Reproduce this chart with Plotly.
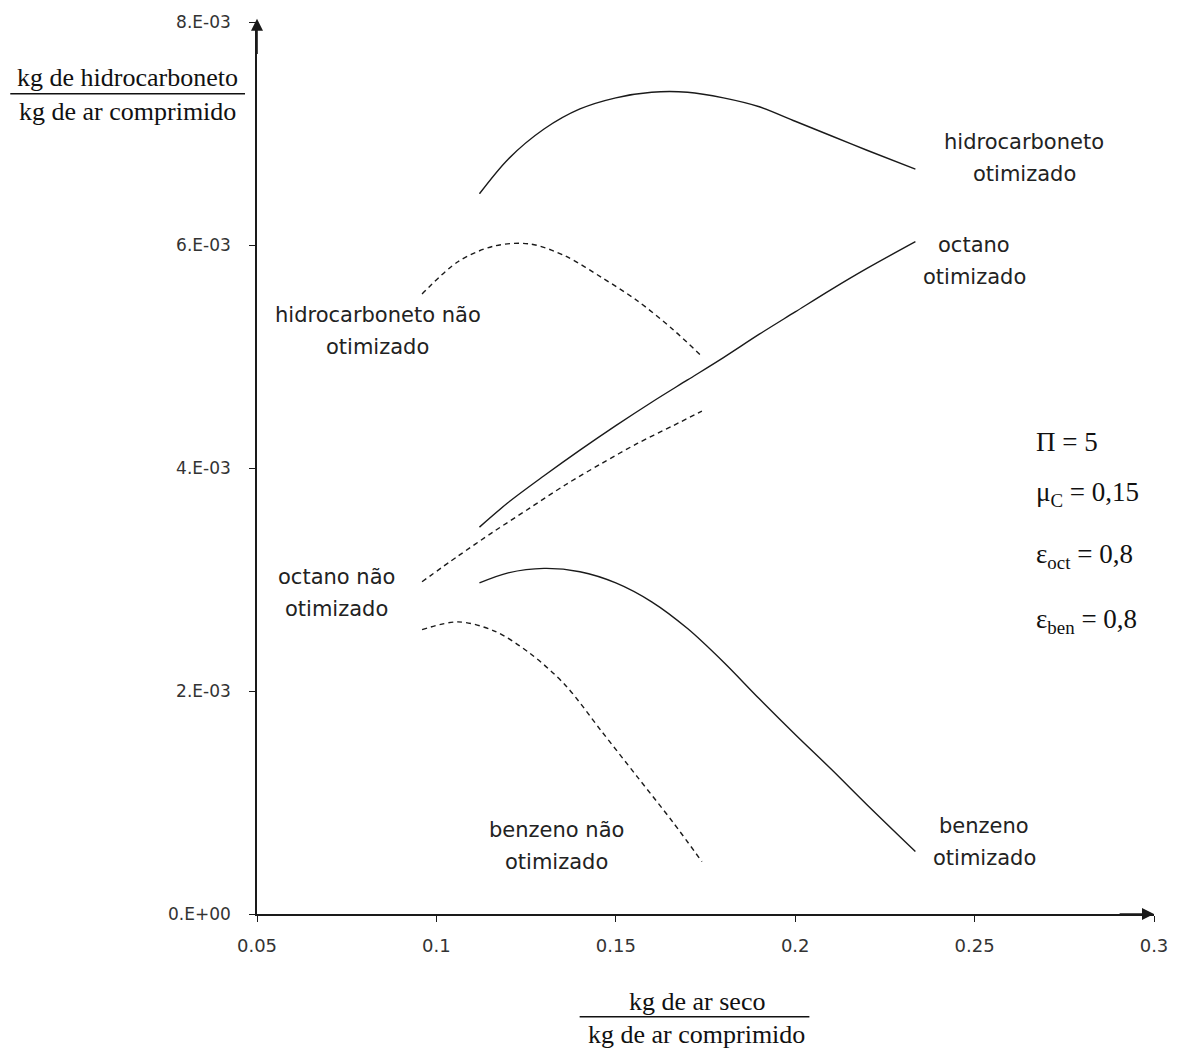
import plotly.graph_objects as go

# Air-to-compressed-air ratio (x) for the two families of curves
x_nao_otim = [0.096, 0.106, 0.116, 0.126, 0.136, 0.146, 0.156, 0.166, 0.174]
x_otim = [0.112, 0.12, 0.13, 0.14, 0.15, 0.16, 0.17, 0.18, 0.19, 0.2, 0.21, 0.22, 0.2335]

# Hydrocarbon mass per compressed-air mass (×1e-3)
hidro_nao_otim = [5.56, 5.85, 5.99, 6.01, 5.90, 5.71, 5.50, 5.24, 5.00]
octano_nao_otim = [2.98, 3.21, 3.43, 3.64, 3.85, 4.04, 4.22, 4.38, 4.51]
benzeno_nao_otim = [2.55, 2.62, 2.54, 2.34, 2.05, 1.64, 1.23, 0.82, 0.47]

hidro_otim = [6.46, 6.77, 7.04, 7.22, 7.32, 7.37, 7.37, 7.32, 7.24, 7.11, 6.98, 6.85, 6.68]
octano_otim = [3.47, 3.69, 3.93, 4.16, 4.38, 4.59, 4.79, 4.99, 5.20, 5.40, 5.60, 5.79, 6.03]
benzeno_otim = [2.97, 3.06, 3.10, 3.07, 2.97, 2.80, 2.56, 2.26, 1.93, 1.61, 1.30, 0.98, 0.56]

x_ticks = [0.05, 0.1, 0.15, 0.2, 0.25, 0.3]
x_tick_text = ["0.05", "0.1", "0.15", "0.2", "0.25", "0.3"]
y_ticks = [0, 2e-3, 4e-3, 6e-3, 8e-3]
y_tick_text = ["0.E+00", "2.E-03", "4.E-03", "6.E-03", "8.E-03"]

LINE = "#1a1a1a"
SANS = "'DejaVu Sans', Verdana, sans-serif"
SERIF = "'Liberation Serif', 'Times New Roman', serif"

# Plot-area geometry (pixels) used to place paper-referenced titles
W, H = 1180, 1050
L, R, T, B = 257, 25, 20, 136
PW, PH = W - L - R, H - T - B


def px(xp):
    return (xp - L) / PW


def py(yp):
    return (H - B - yp) / PH


fig = go.Figure()


def curve(xs, ys, dashed):
    fig.add_trace(go.Scatter(
        x=xs, y=[v * 1e-3 for v in ys], mode="lines",
        line=dict(color=LINE, width=1.4, shape="spline", smoothing=0.9,
                  dash="5px,4px" if dashed else "solid"),
        showlegend=False, hoverinfo="skip"))


curve(x_otim, hidro_otim, False)
curve(x_otim, octano_otim, False)
curve(x_otim, benzeno_otim, False)
curve(x_nao_otim, hidro_nao_otim, True)
curve(x_nao_otim, octano_nao_otim, True)
curve(x_nao_otim, benzeno_nao_otim, True)

# Curve labels (data coordinates of the label centre, y in 1e-3); two lines each
labels = [
    (0.2638, 6.78, "hidrocarboneto", "otimizado"),
    (0.2499, 5.86, "octano", "otimizado"),
    (0.0837, 5.23, "hidrocarboneto não", "otimizado"),
    (0.0722, 2.875, "octano não", "otimizado"),
    (0.1335, 0.607, "benzeno não", "otimizado"),
    (0.2527, 0.65, "benzeno", "otimizado"),
]
LINE_GAP = 16  # half the spacing between the two text lines, px
for lx, ly, top, bottom in labels:
    for txt, shift in ((top, LINE_GAP), (bottom, -LINE_GAP)):
        fig.add_annotation(x=lx, y=ly * 1e-3, text=txt, showarrow=False, yshift=shift,
                           font=dict(family=SANS, size=21, color="#222"),
                           xanchor="center", yanchor="middle")

# Parameter block
params = [
    (4.23, "Π = 5"),
    (3.77, "μ<sub>C</sub> = 0,15"),
    (3.21, "ε<sub>oct</sub> = 0,8"),
    (2.63, "ε<sub>ben</sub> = 0,8"),
]
for yv, txt in params:
    fig.add_annotation(x=0.2666, y=yv * 1e-3, text=txt, showarrow=False,
                       font=dict(family=SERIF, size=27, color="#111"),
                       xanchor="left", yanchor="middle")

# Axis arrows
fig.add_annotation(x=0.3, y=0, ax=0.29, ay=0, xref="x", yref="y", axref="x", ayref="y",
                   showarrow=True, arrowhead=2, arrowsize=1.5, arrowwidth=1.6,
                   arrowcolor=LINE, text="")
fig.add_annotation(x=0.05, y=8.03e-3, ax=0.05, ay=7.7e-3, xref="x", yref="y", axref="x", ayref="y",
                   showarrow=True, arrowhead=2, arrowsize=1.5, arrowwidth=1.6,
                   arrowcolor=LINE, text="")

# Fractional axis titles
TITLE_FONT = dict(family=SERIF, size=26, color="#111")
fig.add_annotation(x=px(127), y=py(76), xref="paper", yref="paper", text="kg de hidrocarboneto",
                   showarrow=False, font=TITLE_FONT, xanchor="center", yanchor="middle")
fig.add_annotation(x=px(127), y=py(110), xref="paper", yref="paper", text="kg de ar comprimido",
                   showarrow=False, font=TITLE_FONT, xanchor="center", yanchor="middle")
fig.add_shape(type="line", xref="paper", yref="paper", x0=px(10), x1=px(245), y0=py(92), y1=py(92),
              line=dict(color="#111", width=1.5))

fig.add_annotation(x=px(697), y=py(1002), xref="paper", yref="paper", text="kg de ar seco",
                   showarrow=False, font=TITLE_FONT, xanchor="center", yanchor="middle")
fig.add_annotation(x=px(697), y=py(1035), xref="paper", yref="paper", text="kg de ar comprimido",
                   showarrow=False, font=TITLE_FONT, xanchor="center", yanchor="middle")
fig.add_shape(type="line", xref="paper", yref="paper", x0=px(580), x1=px(810), y0=py(1017), y1=py(1017),
              line=dict(color="#111", width=1.5))

fig.update_layout(
    width=W, height=H,
    margin=dict(l=L, r=R, t=T, b=B),
    paper_bgcolor="white", plot_bgcolor="white",
    xaxis=dict(range=[0.05, 0.3], tickvals=x_ticks, ticktext=x_tick_text,
               showgrid=False, zeroline=False, showline=True, linecolor=LINE, linewidth=1.6,
               ticks="outside", ticklen=6, tickcolor=LINE, ticklabelstandoff=9,
               tickfont=dict(family=SANS, size=18, color="#333")),
    yaxis=dict(range=[0, 8e-3], tickvals=y_ticks, ticktext=y_tick_text,
               showgrid=False, zeroline=False, showline=True, linecolor=LINE, linewidth=1.6,
               ticks="outside", ticklen=6, tickcolor=LINE, ticklabelstandoff=15,
               tickfont=dict(family=SANS, size=17, color="#333")),
)

fig.write_html("out.html")
